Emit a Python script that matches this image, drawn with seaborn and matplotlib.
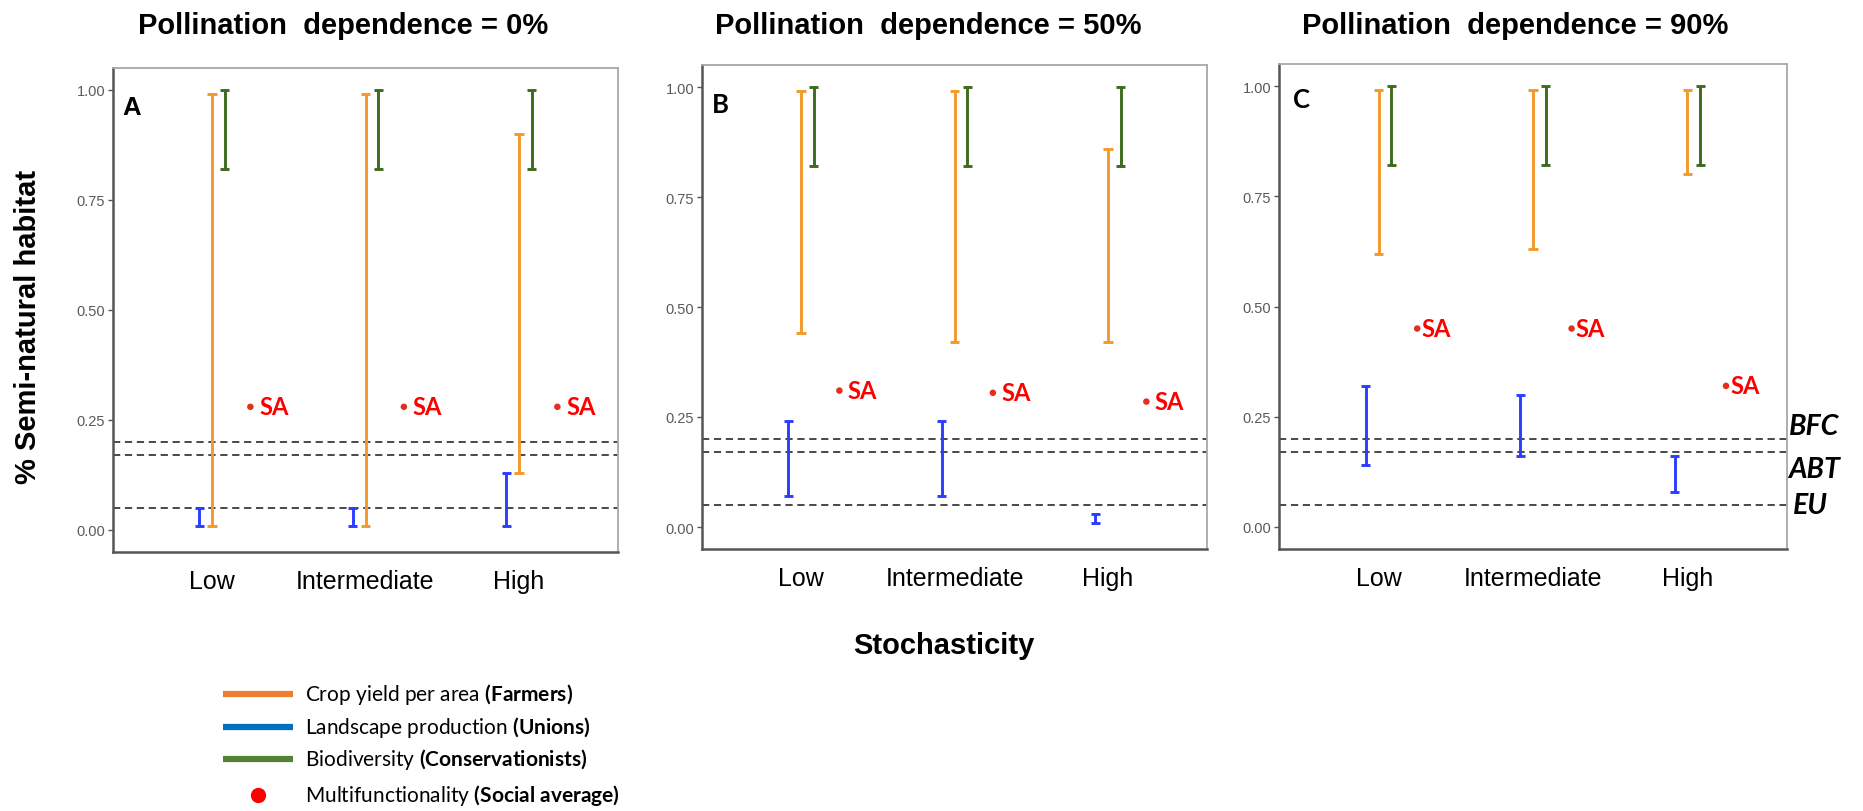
import numpy as np
import pandas as pd
import matplotlib
matplotlib.use("Agg")
import matplotlib.pyplot as plt
import matplotlib.transforms as mtransforms
from matplotlib.lines import Line2D
import seaborn as sns

# ---------------- data ----------------
categories = ["Low", "Intermediate", "High"]
panel_titles = ["Pollination  dependence = 0%",
                "Pollination  dependence = 50%",
                "Pollination  dependence = 90%"]
panel_letters = ["A", "B", "C"]
groups = ["Unions", "Farmers", "Conservationists"]

# one inner list per panel (A, B, C); values for Low, Intermediate, High
farmers_low = [[0.01, 0.01, 0.13], [0.44, 0.42, 0.42], [0.62, 0.63, 0.80]]
farmers_high = [[0.99, 0.99, 0.90], [0.99, 0.99, 0.86], [0.99, 0.99, 0.99]]
unions_low = [[0.01, 0.01, 0.01], [0.07, 0.07, 0.01], [0.14, 0.16, 0.08]]
unions_high = [[0.05, 0.05, 0.13], [0.24, 0.24, 0.03], [0.32, 0.30, 0.16]]
conserv_low = [[0.82, 0.82, 0.82], [0.82, 0.82, 0.82], [0.82, 0.82, 0.82]]
conserv_high = [[1.00, 1.00, 1.00], [1.00, 1.00, 1.00], [1.00, 1.00, 1.00]]
social_avg = [[0.28, 0.28, 0.28], [0.31, 0.305, 0.285], [0.45, 0.45, 0.32]]

policy_targets = [0.20, 0.17, 0.05]
policy_labels = ["BFC", "ABT", "EU"]
y_ticks = [0.0, 0.25, 0.50, 0.75, 1.00]
y_ticklabels = ["0.00", "0.25", "0.50", "0.75", "1.00"]

legend_labels = [r"Crop yield per area $\bf{(Farmers)}$",
                 r"Landscape production $\bf{(Unions)}$",
                 r"Biodiversity $\bf{(Conservationists)}$",
                 r"Multifunctionality $\bf{(Social\ average)}$"]

# ---------------- style ----------------
bar_colors = {"Unions": "#2B3DFF", "Farmers": "#F39A2B", "Conservationists": "#3E6B1E"}
legend_colors = ["#ED7D31", "#0070C0", "#548235"]
dot_color = "#E2301C"
sa_color = "#FF0000"

sns.set_style("white")
plt.rcParams["font.family"] = ["Liberation Sans", "DejaVu Sans"]
plt.rcParams["text.color"] = "black"
plt.rcParams["axes.labelcolor"] = "black"
plt.rcParams["mathtext.fontset"] = "custom"
plt.rcParams["mathtext.rm"] = "Lato"
plt.rcParams["mathtext.bf"] = "Lato:bold"
plt.rcParams["mathtext.it"] = "Lato:italic"

W, H = 1863, 812
fig = plt.figure(figsize=(W / 100, H / 100), dpi=100)
fig.patch.set_facecolor("white")


def px_axes(l, t, r, b):
    return fig.add_axes([l / W, 1 - b / H, (r - l) / W, (b - t) / H])


boxes = [(113, 69, 618, 553), (702, 66, 1207, 550), (1279, 65, 1787, 550)]
letter_pos = [(122, 115, "Liberation Sans"), (712, 113, "Lato"), (1293, 108, "Lato")]
title_centers = [343, 928, 1515]
sa_offsets = [6.5, 6.0, 3.0]

axes = []
for i in range(3):
    ax = px_axes(*boxes[i])
    axes.append(ax)
    rows = []
    for g, lo, hi in [("Unions", unions_low[i], unions_high[i]),
                      ("Farmers", farmers_low[i], farmers_high[i]),
                      ("Conservationists", conserv_low[i], conserv_high[i])]:
        for c, a, b in zip(categories, lo, hi):
            rows.append({"Stochasticity": c, "value": a, "group": g})
            rows.append({"Stochasticity": c, "value": b, "group": g})
    df = pd.DataFrame(rows)

    for yv in policy_targets:
        ax.axhline(yv, color="#3a3a3a", lw=1.3, ls=(0, (4, 2.6)), zorder=1)

    sns.pointplot(data=df, x="Stochasticity", y="value", hue="group",
                  order=categories, hue_order=groups, palette=bar_colors,
                  estimator="mean", errorbar=lambda v: (v.min(), v.max()),
                  dodge=0.166, markers="", linestyles="none", capsize=0.06,
                  err_kws={"linewidth": 2.1, "solid_capstyle": "butt"},
                  legend=False, ax=ax)

    sa_x = np.arange(len(categories)) + 0.25
    sns.scatterplot(x=sa_x, y=social_avg[i], color=dot_color, s=22,
                    edgecolor="none", legend=False, ax=ax, zorder=4)
    for xv, yv in zip(sa_x, social_avg[i]):
        ax.annotate("SA", xy=(xv, yv), xytext=(sa_offsets[i], 0),
                    textcoords="offset points", ha="left", va="center",
                    color=sa_color, fontsize=17, fontweight="bold",
                    family="Lato")

    ax.set_xlim(-0.645, 2.645)
    ax.set_ylim(-0.05, 1.05)
    ax.set_yticks(y_ticks)
    ax.set_yticklabels(y_ticklabels)
    ax.set_xticks(range(len(categories)))
    ax.set_xticklabels(categories)
    ax.set_xlabel("")
    ax.set_ylabel("")
    ax.tick_params(axis="y", left=True, length=3.5, width=1, color="#555555",
                   labelsize=10.5, labelcolor="#5a5a5a", pad=2)
    ax.tick_params(axis="x", bottom=False, length=0, labelsize=18,
                   labelcolor="black", pad=12)
    for side in ["left", "bottom"]:
        ax.spines[side].set_color("#555555")
        ax.spines[side].set_linewidth(1.8)
    for side in ["top", "right"]:
        ax.spines[side].set_color("#a8a8a8")
        ax.spines[side].set_linewidth(1.3)
    ax.grid(False)

    lx, ly, lfam = letter_pos[i]
    fig.text(lx / W, 1 - ly / H, panel_letters[i], fontsize=18.5,
             fontweight="bold", family=lfam, ha="left", va="baseline",
             color="black")
    fig.text(title_centers[i] / W, 1 - 34 / H, panel_titles[i], fontsize=21,
             fontweight="bold", ha="center", va="baseline", color="black")

# policy target labels on the right of panel C
axc = axes[2]
trans = mtransforms.blended_transform_factory(axc.transAxes, axc.transData)
label_va = ["bottom", "top", "center"]
label_dx = [0.003, 0.003, 0.012]
label_dy = [0.0, -0.008, 0.0]
for lab, yv, va, dx, dy in zip(policy_labels, policy_targets, label_va, label_dx, label_dy):
    axc.text(1.0 + dx, yv + dy, lab, transform=trans, ha="left", va=va,
             fontsize=20.5, fontweight="bold", fontstyle="italic", family="Lato",
             clip_on=False, color="black")

# shared axis labels
fig.text(28 / W, 1 - 327 / H, "% Semi-natural habitat", rotation=90,
         fontsize=21, fontweight="bold", ha="center", va="center", color="black")
fig.text(944 / W, 1 - 646 / H, "Stochasticity", fontsize=21,
         fontweight="bold", ha="center", va="center", color="black")

# legend (drawn manually at the bottom left)
row_y = [695, 728, 760, 796]
for k in range(4):
    yf = 1 - row_y[k] / H
    if k < 3:
        fig.add_artist(Line2D([223 / W, 293 / W], [yf, yf], color=legend_colors[k],
                              lw=4.5, solid_capstyle="butt",
                              transform=fig.transFigure))
    else:
        fig.add_artist(Line2D([258 / W], [yf], marker="o", markersize=11,
                              color="#FF0000", markeredgewidth=0, ls="none",
                              transform=fig.transFigure))
    fig.text(305 / W, yf, legend_labels[k], fontsize=15, family="Lato",
             ha="left", va="center", color="black")

fig.savefig("out.png", dpi=100, facecolor="white")
